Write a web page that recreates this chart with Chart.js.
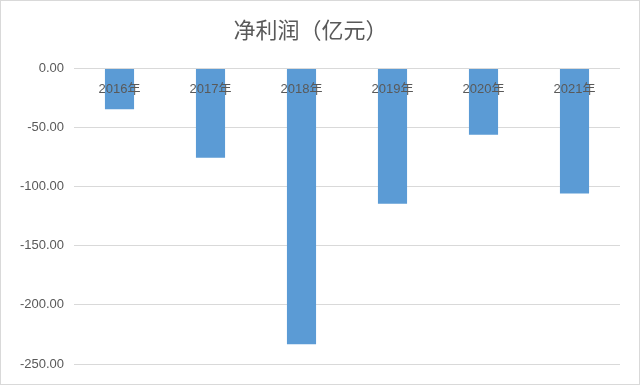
<!DOCTYPE html>
<html>
<head>
<meta charset="utf-8">
<script src="https://cdn.jsdelivr.net/npm/chart.js@4/dist/chart.umd.min.js"></script>
<style>
  html, body { margin: 0; padding: 0; background: #fff; }
  #wrap { width: 640px; height: 385px; box-sizing: border-box; border: 1px solid #d9d9d9; position: relative; }
</style>
</head>
<body>
<div id="wrap"><canvas id="profit_bar"></canvas></div>
<script>
const years = ['2016年', '2017年', '2018年', '2019年', '2020年', '2021年'];
const netProfit = [-34.6, -75.5, -233.4, -114.4, -56.1, -105.9];
const yTicks = [0, -50, -100, -150, -200, -250];

const ctx = document.getElementById('profit_bar').getContext('2d');

new Chart(ctx, {
  type: 'bar',
  data: {
    labels: years,
    datasets: [{
      label: '净利润',
      data: netProfit,
      backgroundColor: '#5b9bd5',
      barPercentage: 0.32,
      categoryPercentage: 1
    }]
  },
  options: {
    responsive: true,
    maintainAspectRatio: false,
    animation: false,
    layout: {
      padding: { left: 0, right: 19, top: 0, bottom: 20 }
    },
    scales: {
      x: {
        // axis sits on the 0 line, labels hang below it over the bars
        position: 'top',
        grid: { display: false, drawTicks: false },
        border: { display: false },
        afterFit: function(scale) { scale.height = 0; },
        ticks: {
          z: 1,
          mirror: true,
          padding: 13,
          maxRotation: 0,
          autoSkip: false,
          color: '#595959',
          font: { family: '"Liberation Sans", "Noto Sans CJK SC"', size: 13 }
        }
      },
      y: {
        min: Math.min(...yTicks),
        max: Math.max(...yTicks),
        afterFit: function(scale) { scale.width = 73; },
        afterBuildTicks: function(scale) {
          scale.ticks = yTicks.map(v => ({ value: v }));
        },
        grid: { color: '#d9d9d9', lineWidth: 1, drawTicks: false },
        border: { display: false },
        ticks: {
          padding: 10,
          color: '#595959',
          font: { family: '"Liberation Sans"', size: 13 },
          callback: v => Number(v).toFixed(2)
        }
      }
    },
    plugins: {
      legend: { display: false },
      tooltip: { enabled: false },
      title: {
        display: true,
        text: '净利润（亿元）',
        color: '#595959',
        font: { family: '"Noto Sans CJK SC"', size: 22, weight: 'normal' },
        padding: { top: 15, bottom: 26 }
      }
    }
  }
});
</script>
</body>
</html>
